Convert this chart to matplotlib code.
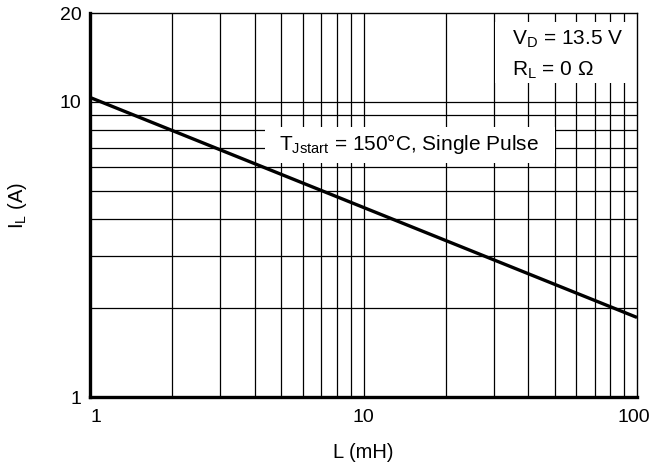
import matplotlib
matplotlib.use("Agg")
import matplotlib.pyplot as plt
import matplotlib.transforms as mtransforms
from matplotlib.patches import Rectangle
from matplotlib.ticker import FixedLocator, NullLocator

plt.rcParams['font.family'] = ['Liberation Sans', 'DejaVu Sans']
plt.rcParams['mathtext.fontset'] = 'custom'
plt.rcParams['mathtext.rm'] = 'Liberation Sans'

L_mH = [1, 100]
I_L = [10.35, 1.86]
xticks = [1, 10, 100]
xticklabels = ["1", "10", "100"]
yticks = [1, 10, 20]
yticklabels = ["1", "10", "20"]
xgrid = [2, 3, 4, 5, 6, 7, 8, 9, 10, 20, 30, 40, 50, 60, 70, 80, 90]
ygrid = [2, 3, 4, 5, 6, 7, 8, 9, 10]

fig = plt.figure(figsize=(6.52, 4.68), dpi=100)
ax = fig.add_axes([90/652, 1-397/468, 547/652, 384/468])
ax.set_xscale('log')
ax.set_yscale('log')
ax.set_xlim(1, 100)
ax.set_ylim(1, 20)

for xv in xgrid:
    ax.axvline(xv, color='black', lw=0.9, zorder=1)
for yv in ygrid:
    ax.axhline(yv, color='black', lw=0.9, zorder=1)

ax.plot(L_mH, I_L, color='black', lw=2.4, zorder=4, solid_capstyle='butt')

ax.xaxis.set_major_locator(FixedLocator(xticks))
ax.set_xticklabels(xticklabels)
ax.yaxis.set_major_locator(FixedLocator(yticks))
ax.set_yticklabels(yticklabels)
ax.xaxis.set_minor_locator(NullLocator())
ax.yaxis.set_minor_locator(NullLocator())
ax.tick_params(length=0, labelsize=14)
ax.tick_params(axis='x', pad=9)
ax.tick_params(axis='y', pad=6)

# nudge the outer x tick labels like the reference
xl = ax.get_xticklabels()
xl[0].set_transform(xl[0].get_transform() + mtransforms.ScaledTranslation(6/100, 0, fig.dpi_scale_trans))
xl[2].set_transform(xl[2].get_transform() + mtransforms.ScaledTranslation(-3/100, 0, fig.dpi_scale_trans))

for s in ['left', 'bottom']:
    ax.spines[s].set_linewidth(2.4)
for s in ['top', 'right']:
    ax.spines[s].set_linewidth(1.0)
for s in ax.spines.values():
    s.set_zorder(6)

ax.set_xlabel("L (mH)", fontsize=14.5, labelpad=12)
ax.set_ylabel(r"I$_\mathregular{L}$ (A)", fontsize=14.5, labelpad=22)

# white boxes behind annotations
ax.add_patch(Rectangle((0.740, 0.818), 0.26, 0.159, transform=ax.transAxes,
                       fc='white', ec='none', zorder=3))
ax.add_patch(Rectangle((0.320, 0.609), 0.530, 0.094, transform=ax.transAxes,
                       fc='white', ec='none', zorder=3))

ax.text(0.771, 0.917, r"V$_\mathregular{D}$ = 13.5 V", transform=ax.transAxes,
        ha='left', va='baseline', fontsize=15, zorder=5)
ax.text(0.771, 0.8385, r"R$_\mathregular{L}$ = 0 Ω", transform=ax.transAxes,
        ha='left', va='baseline', fontsize=15, zorder=5)
ax.text(0.583, 0.643, r"T$_\mathregular{Jstart}$ = 150°C, Single Pulse", transform=ax.transAxes,
        ha='center', va='baseline', fontsize=15, zorder=5)

fig.savefig("out.png", dpi=100)
